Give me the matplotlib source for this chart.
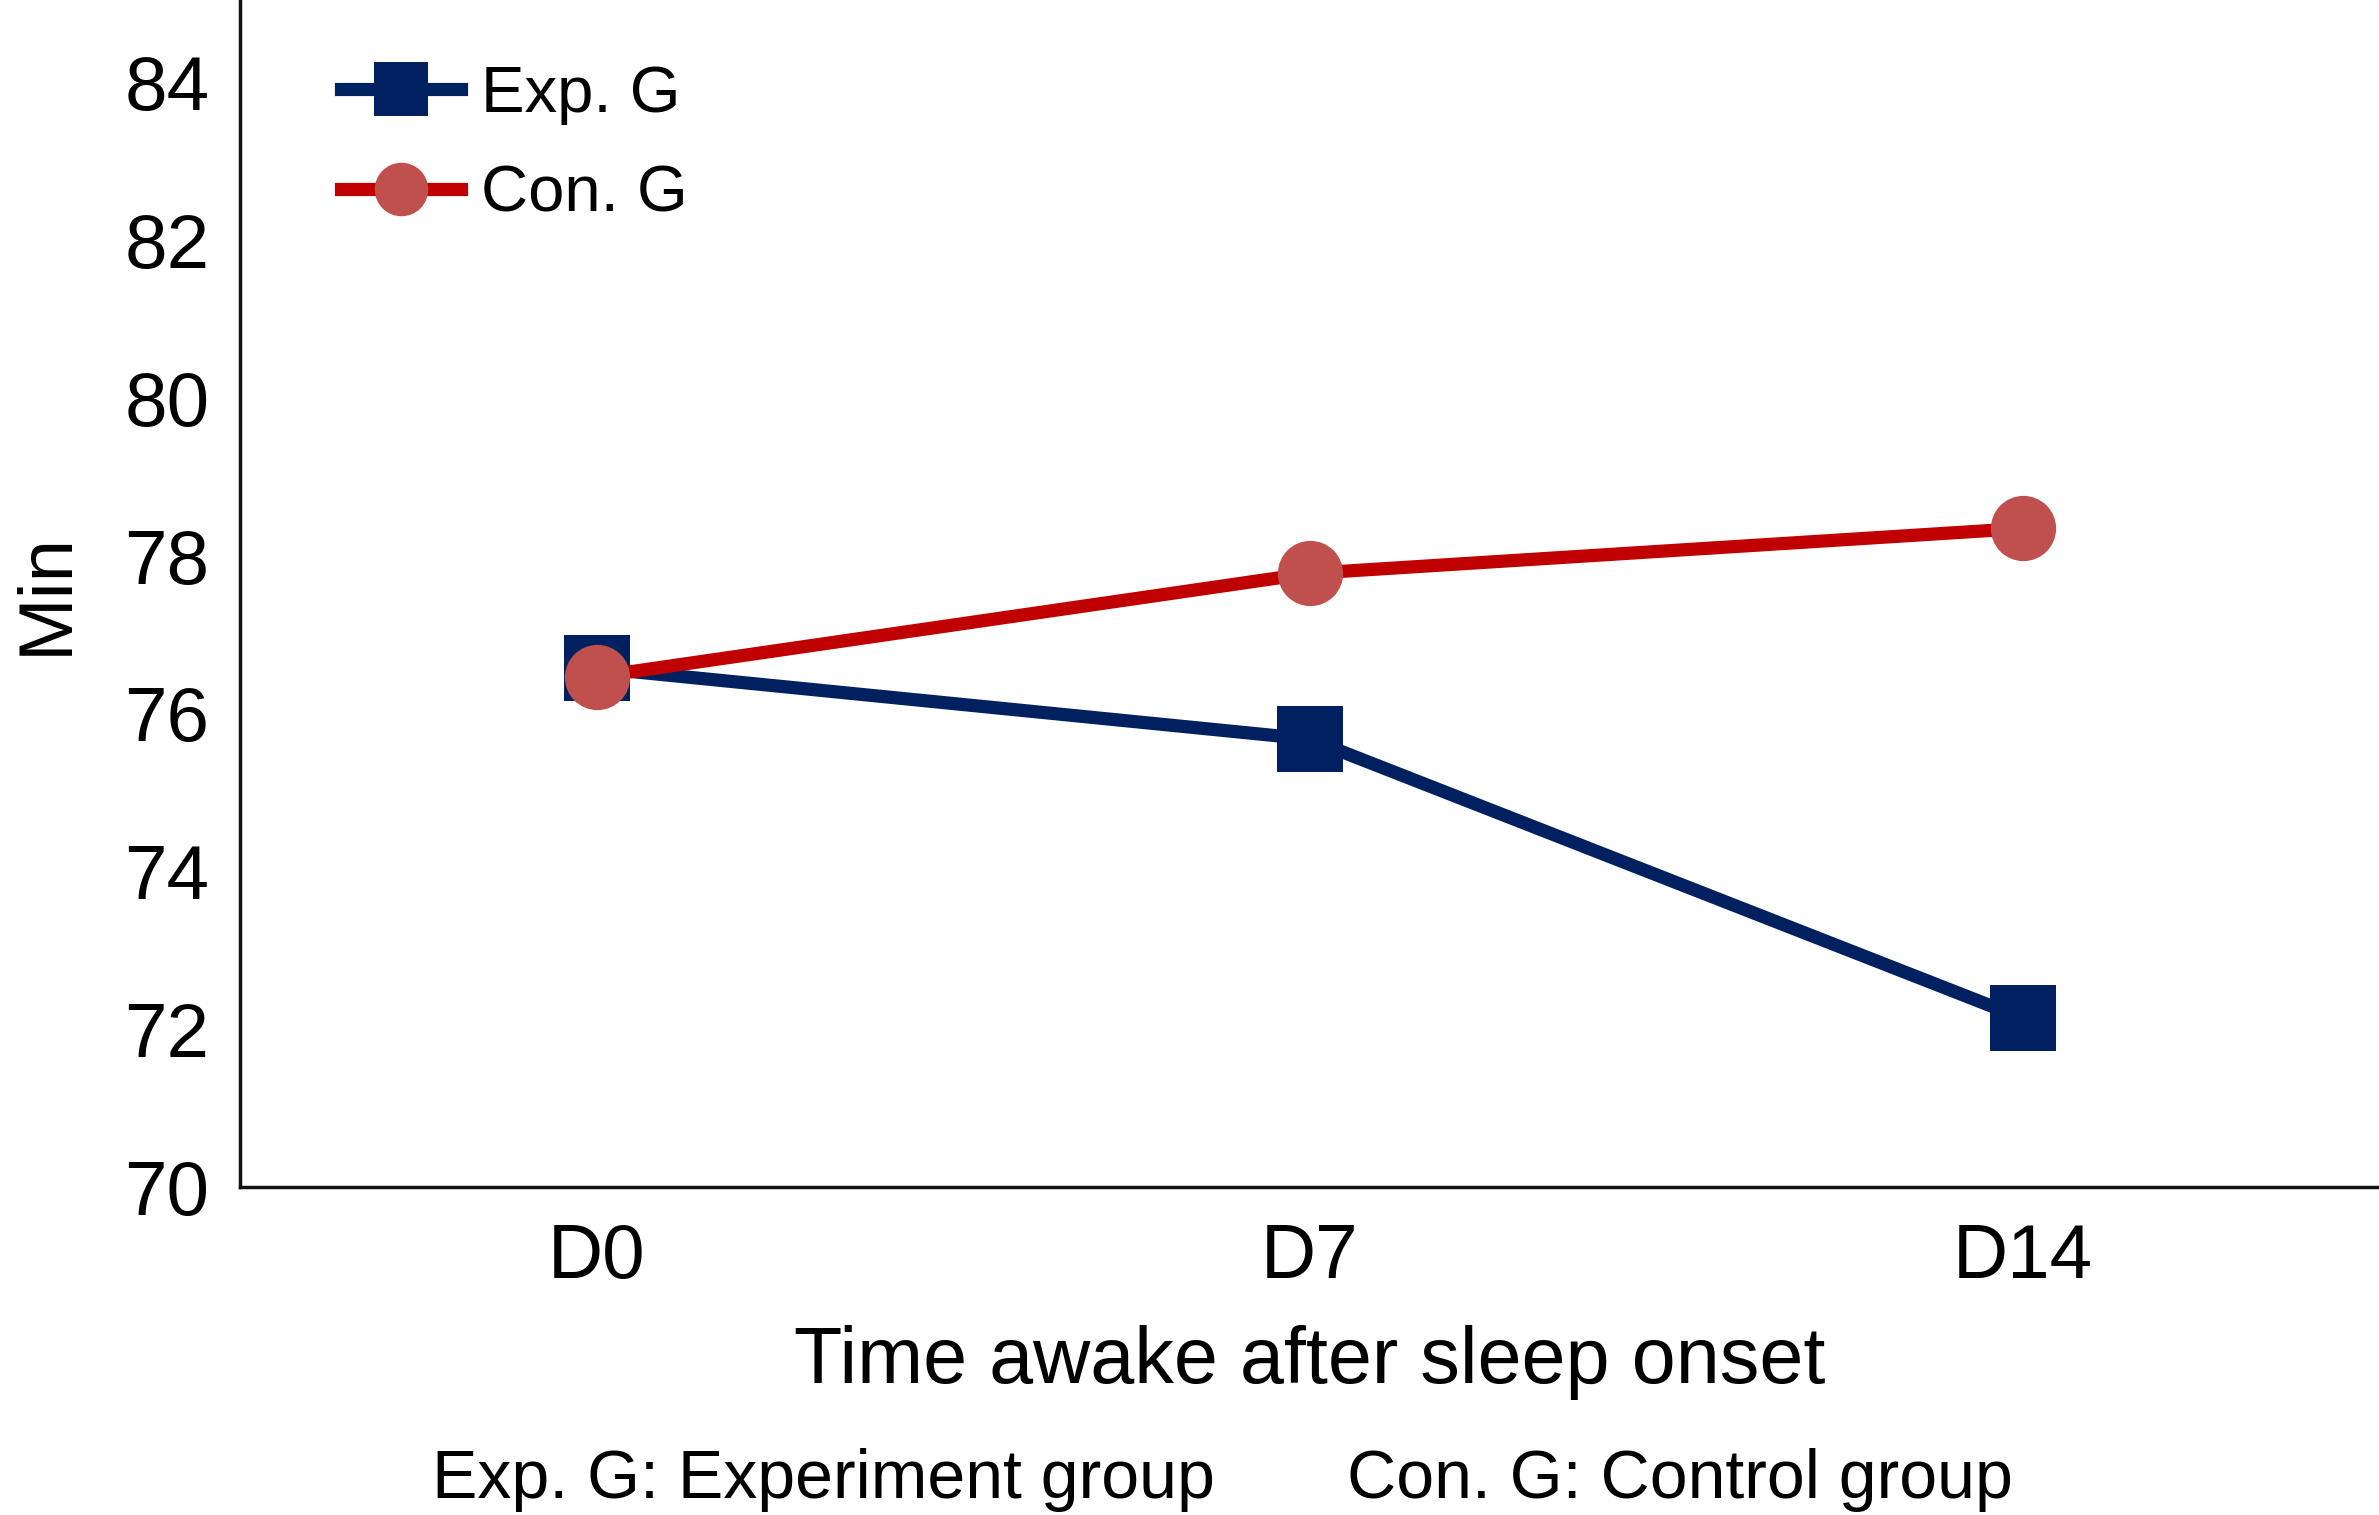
import matplotlib
matplotlib.use("Agg")
import matplotlib.pyplot as plt

days = ["D0", "D7", "D14"]
exp_vals = [76.58, 75.68, 72.14]
con_vals = [76.47, 77.78, 78.35]
y_ticks = [70, 72, 74, 76, 78, 80, 82, 84]

plt.rcParams["font.family"] = ["Liberation Sans", "DejaVu Sans"]

fig = plt.figure(figsize=(23.79, 15.15), dpi=100)
ax = fig.add_axes([0.1009, 0.2165, 0.8991, 0.7835])

x = list(range(len(days)))
ax.plot(x, exp_vals, color="#002060", linewidth=9.5, marker="s",
        markersize=47, markerfacecolor="#002060", markeredgewidth=0,
        label="Exp. G", zorder=3)
ax.plot(x, con_vals, color="#C00000", linewidth=9.5, marker="o",
        markersize=47, markerfacecolor="#C0504D", markeredgewidth=0,
        label="Con. G", zorder=4)

ax.set_xlim(-0.5, 2.5)
ax.set_ylim(70, 85.05)
ax.set_xticks(x)
ax.set_xticklabels(days)
ax.set_yticks(y_ticks)
ax.tick_params(axis="both", length=0, labelsize=55)
ax.tick_params(axis="y", pad=22)
ax.tick_params(axis="x", pad=26)

for side in ["top", "right"]:
    ax.spines[side].set_visible(False)
for side in ["left", "bottom"]:
    ax.spines[side].set_linewidth(2.5)
    ax.spines[side].set_color("#111111")

ax.set_ylabel("Min", fontsize=55, labelpad=30)
ax.set_xlabel("Time awake after sleep onset", fontsize=57, labelpad=22)

ax.legend(loc="upper left", bbox_to_anchor=(0.047, 0.945), frameon=False,
          fontsize=47, handlelength=1.85, handletextpad=0.3,
          labelspacing=0.6, borderpad=0, borderaxespad=0, markerscale=0.82)

fig.text(0.1817, 0.011, "Exp. G: Experiment group", fontsize=49, ha="left", va="baseline")
fig.text(0.5663, 0.011, "Con. G: Control group", fontsize=49, ha="left", va="baseline")

fig.savefig("out.png", dpi=100)
